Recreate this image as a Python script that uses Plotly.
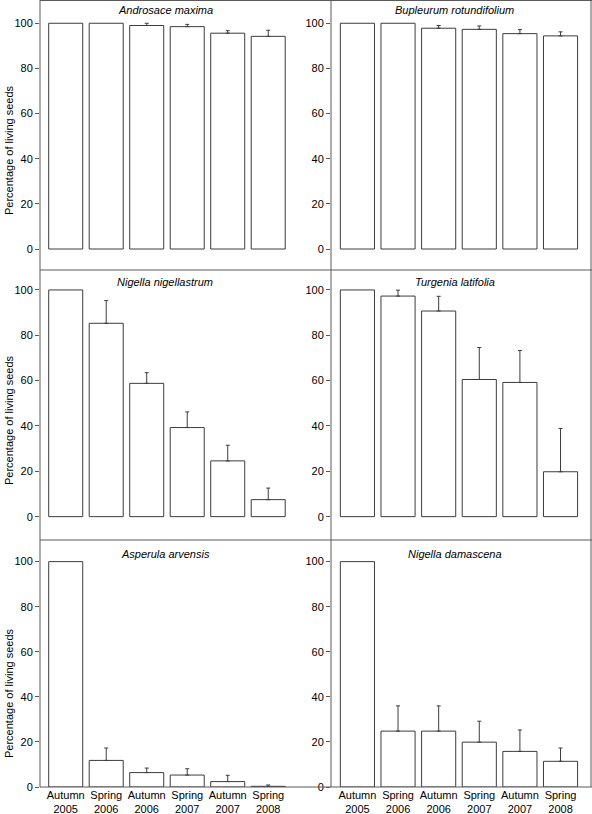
import plotly.graph_objects as go

W, H = 592, 814

categories = ["Autumn<br>2005", "Spring<br>2006", "Autumn<br>2006",
              "Spring<br>2007", "Autumn<br>2007", "Spring<br>2008"]

species = ["Androsace maxima", "Bupleurum rotundifolium",
           "Nigella nigellastrum", "Turgenia latifolia",
           "Asperula arvensis", "Nigella damascena"]

androsace_vals = [100, 100, 99.0, 98.5, 95.6, 94.2]
androsace_err = [0, 0, 1.0, 1.0, 1.1, 2.7]
bupleurum_vals = [100, 100, 97.8, 97.3, 95.4, 94.4]
bupleurum_err = [0, 0, 1.2, 1.5, 1.8, 1.8]
nigellastrum_vals = [100, 85.3, 58.8, 39.3, 24.6, 7.5]
nigellastrum_err = [0, 10.0, 4.7, 6.9, 6.9, 5.1]
turgenia_vals = [100, 97.3, 90.7, 60.5, 59.2, 19.8]
turgenia_err = [0, 2.6, 6.5, 14.1, 14.1, 19.1]
asperula_vals = [100, 11.8, 6.4, 5.3, 2.4, 0.3]
asperula_err = [0, 5.5, 2.0, 2.8, 2.8, 0.6]
damascena_vals = [100, 24.8, 24.8, 19.9, 15.8, 11.4]
damascena_err = [0, 11.2, 11.2, 9.3, 9.5, 5.9]

y_ticks = [0, 20, 40, 60, 80, 100]
y_title = "Percentage of living seeds"

series_vals = [androsace_vals, bupleurum_vals, nigellastrum_vals,
               turgenia_vals, asperula_vals, damascena_vals]
series_err = [androsace_err, bupleurum_err, nigellastrum_err,
              turgenia_err, asperula_err, damascena_err]

FONT = "Liberation Sans, Arial, Helvetica, sans-serif"
LINE = "#5a5a5a"
BAR_LINE = "#3c3c3c"


def px_x(p):
    return p / W


def px_y(p):
    return 1 - p / H


col_px = [(40, 331), (331, 591)]
row_px = [(0, 270), (270, 540), (540, 787)]
x_ranges = [[-0.635, 6.55], [-0.65, 5.75]]
y_ranges = [[-9.3, 110.3], [-10.3, 108.8], [0, 109.6]]
title_y_px = [10, 282, 554]
title_x_px = [165, 455]
ytitle_y_px = [150, 420, 693]

fig = go.Figure()
layout = dict(
    width=W, height=H, autosize=False,
    margin=dict(l=0, r=0, t=0, b=0, pad=0),
    paper_bgcolor="white", plot_bgcolor="white",
    showlegend=False,
    font=dict(family=FONT, size=11, color="black"),
    bargap=0.16,
)
annotations = []
shapes = []

for i in range(6):
    r, c = divmod(i, 2)
    n = i + 1
    xa = "x" if n == 1 else f"x{n}"
    ya = "y" if n == 1 else f"y{n}"
    # no error bar drawn where the error is zero
    err_plus = [e if e > 0 else "NaN" for e in series_err[i]]
    err_minus = [0 if e > 0 else "NaN" for e in series_err[i]]
    fig.add_trace(go.Bar(
        x=categories, y=series_vals[i],
        xaxis=xa, yaxis=ya,
        marker=dict(color="white", line=dict(color=BAR_LINE, width=1)),
        error_y=dict(type="data", symmetric=False, array=err_plus,
                     arrayminus=err_minus, color=BAR_LINE, thickness=1, width=2),
        width=0.84,
        hoverinfo="skip",
    ))
    x0, x1 = col_px[c]
    y0, y1 = row_px[r]
    xkey = "xaxis" if n == 1 else f"xaxis{n}"
    ykey = "yaxis" if n == 1 else f"yaxis{n}"
    layout[xkey] = dict(
        domain=[px_x(x0), px_x(x1)], anchor=ya,
        type="category", range=x_ranges[c],
        showgrid=False, zeroline=False, showline=False, ticks="",
        showticklabels=(r == 2), automargin=False,
        tickfont=dict(family=FONT, size=11, color="black"),
        fixedrange=True,
    )
    layout[ykey] = dict(
        domain=[px_y(y1), px_y(y0)], anchor=xa,
        range=y_ranges[r], tickvals=y_ticks, automargin=False,
        showgrid=False, zeroline=False, showline=False,
        ticks="outside", ticklen=4, tickcolor=LINE, tickwidth=1,
        tickfont=dict(family=FONT, size=11, color="black"),
        fixedrange=True,
    )
    annotations.append(dict(
        text=f"<i>{species[i]}</i>", xref="paper", yref="paper",
        x=px_x(title_x_px[c]), y=px_y(title_y_px[r]),
        xanchor="center", yanchor="middle", showarrow=False,
        font=dict(family=FONT, size=11, color="black"),
    ))
    if c == 0:
        annotations.append(dict(
            text=y_title, xref="paper", yref="paper",
            x=px_x(9), y=px_y(ytitle_y_px[r]), textangle=-90,
            xanchor="center", yanchor="middle", showarrow=False,
            font=dict(family=FONT, size=11, color="black"),
        ))

for yy in [0.5, 270, 540, 787]:
    shapes.append(dict(type="line", xref="paper", yref="paper",
                       x0=px_x(40), x1=px_x(592), y0=px_y(yy), y1=px_y(yy),
                       line=dict(color=LINE, width=1)))
for xx in [40, 331, 591]:
    shapes.append(dict(type="line", xref="paper", yref="paper",
                       x0=px_x(xx), x1=px_x(xx), y0=px_y(0), y1=px_y(787),
                       line=dict(color=LINE, width=1)))

layout["annotations"] = annotations
layout["shapes"] = shapes
fig.update_layout(**layout)

fix_page = """
document.body.style.margin='0';
document.documentElement.style.overflow='hidden';
document.body.style.overflow='hidden';
"""
fig.write_html("out.html", config={"displayModeBar": False}, post_script=fix_page)
